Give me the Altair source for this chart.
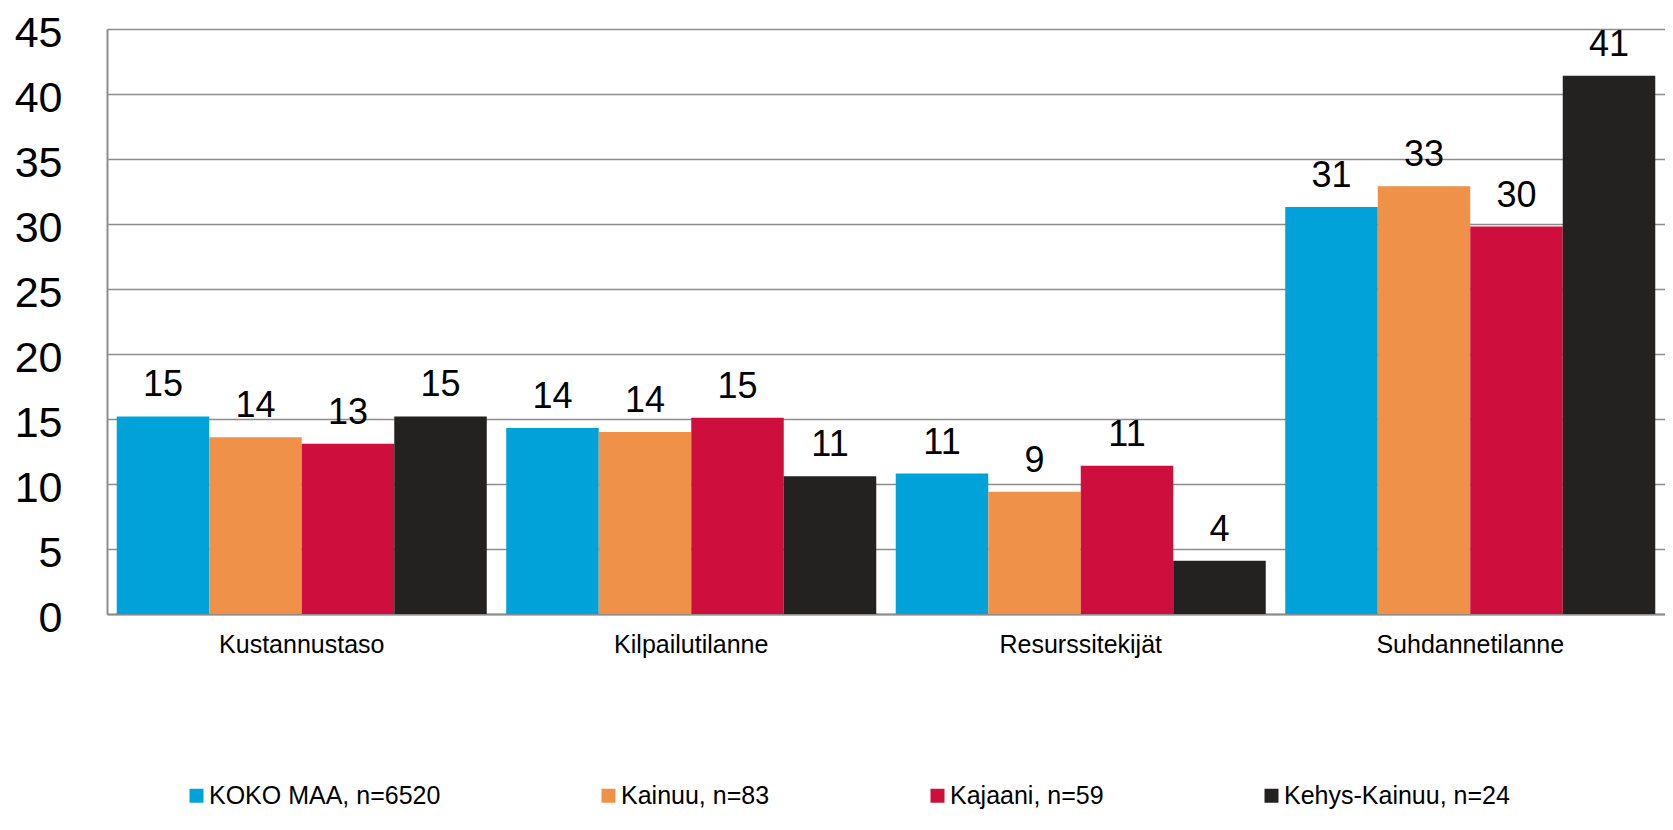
import altair as alt
import pandas as pd

categories = ["Kustannustaso", "Kilpailutilanne", "Resurssitekijät", "Suhdannetilanne"]
series = ["KOKO MAA, n=6520", "Kainuu, n=83", "Kajaani, n=59", "Kehys-Kainuu, n=24"]
koko_maa = [15.2, 14.3, 10.8, 31.3]
kainuu = [13.6, 14.0, 9.4, 32.9]
kajaani = [13.1, 15.1, 11.4, 29.8]
kehys_kainuu = [15.2, 10.6, 4.1, 41.4]
colors = ["#00A3D9", "#F0914A", "#CE0F3D", "#232221"]
y_ticks = [0, 5, 10, 15, 20, 25, 30, 35, 40, 45]

rows = []
for s, vals in zip(series, [koko_maa, kainuu, kajaani, kehys_kainuu]):
    for c, v in zip(categories, vals):
        rows.append({"cat": c, "series": s, "value": v})
df = pd.DataFrame(rows)

FONT = "Liberation Sans"

base = alt.Chart(df).encode(
    x=alt.X(
        "cat:N",
        sort=categories,
        scale=alt.Scale(paddingInner=0.05, paddingOuter=0.025),
        axis=alt.Axis(
            title=None, labelAngle=0, ticks=False, labelFontSize=25, labelFont=FONT,
            labelColor="#000000", labelPadding=18, domainColor="#8c8c8c", domainWidth=2,
            labelLimit=400,
        ),
    ),
    xOffset=alt.XOffset("series:N", sort=series, scale=alt.Scale(paddingInner=0, paddingOuter=0)),
    y=alt.Y(
        "value:Q",
        scale=alt.Scale(domain=[0, 45], nice=False),
        axis=alt.Axis(
            title=None, values=y_ticks, ticks=False, labelFontSize=43, labelFont=FONT,
            labelColor="#000000", labelPadding=45, labelOffset=4, domainColor="#8c8c8c", domainWidth=2,
            gridColor="#8c8c8c", gridWidth=1.5, gridOpacity=1,
        ),
    ),
)

bars = base.mark_bar().encode(
    color=alt.Color(
        "series:N",
        sort=series,
        scale=alt.Scale(domain=series, range=colors),
        legend=alt.Legend(
            title=None, orient="none", legendX=77, legendY=754, direction="horizontal",
            columns=4, symbolType="square", symbolSize=196, symbolStrokeWidth=0,
            labelFontSize=25, labelFont=FONT, labelColor="#000000", labelOffset=0,
            columnPadding=155, labelLimit=400,
        ),
    )
)

labels = base.mark_text(dy=-20, baseline="alphabetic", fontSize=36, font=FONT, color="#000000").encode(
    text=alt.Text("value:Q", format=".0f")
)

chart = (
    alt.layer(bars, labels)
    .properties(
        width=1558,
        height=585,
        padding={"left": 99, "top": 21, "right": 0, "bottom": 204},
        autosize=alt.AutoSizeParams(type="none"),
    )
    .configure_view(stroke=None)
    .configure(background="white")
)

chart.save("out.html", embed_options={"renderer": "svg", "actions": False})
